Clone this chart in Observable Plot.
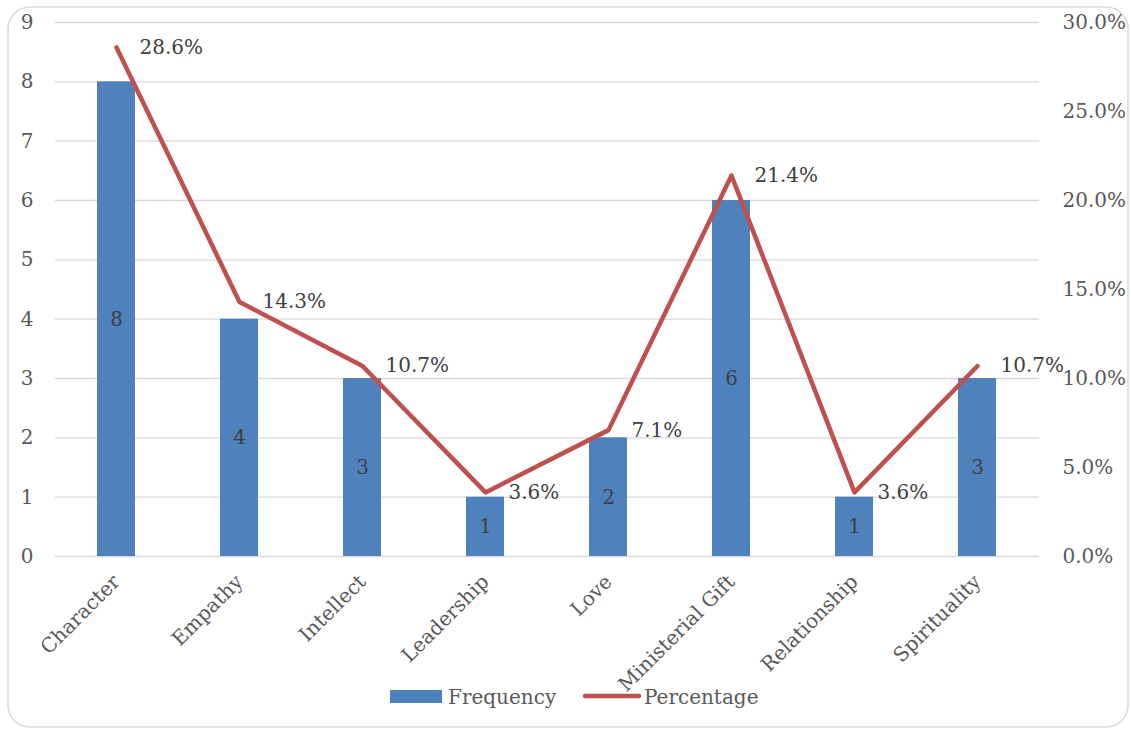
<!DOCTYPE html>
<html>
<head>
<meta charset="utf-8">
<script src="https://cdn.jsdelivr.net/npm/d3@7"></script>
<script src="https://cdn.jsdelivr.net/npm/@observablehq/plot@0.6"></script>
<style>
  body { margin: 0; background: #fff; }
  #chart { position: relative; width: 1131px; height: 732px; }
  #chart svg { font-family: "DejaVu Serif", "Liberation Serif", serif; }
</style>
</head>
<body>
<div id="chart"></div>
<script>
// Qualities named, with how often each was mentioned and its share of all mentions
const categories = ["Character", "Empathy", "Intellect", "Leadership", "Love", "Ministerial Gift", "Relationship", "Spirituality"];
const frequency = [8, 4, 3, 1, 2, 6, 1, 3];
const percentage = [28.6, 14.3, 10.7, 3.6, 7.1, 21.4, 3.6, 10.7];
const leftTicks = [0, 1, 2, 3, 4, 5, 6, 7, 8, 9];
const rightTicks = [0, 5, 10, 15, 20, 25, 30];

const data = categories.map((c, i) => ({ category: c, freq: frequency[i], pct: percentage[i] }));

const FMAX = 9;   // top of the frequency axis
const PMAX = 30;  // top of the percentage axis
const toFreq = p => p * FMAX / PMAX;

const blue = "#4F81BD";
const red = "#C0504D";
const ink = "#595959";
const FS = 20;

const chart = Plot.plot({
  width: 1131,
  height: 732,
  marginTop: 22,
  marginBottom: 176,
  marginLeft: 55,
  marginRight: 92,
  style: { fontSize: FS + "px", color: ink, background: "white", overflow: "visible" },
  x: { domain: categories, paddingInner: 0.69, paddingOuter: 0.345, label: null },
  y: { domain: [0, FMAX], label: null },
  marks: [
    Plot.gridY(leftTicks, { stroke: "#d9d9d9", strokeOpacity: 1, strokeWidth: 1.3 }),
    Plot.axisY(leftTicks, { anchor: "left", tickSize: 0, tickPadding: 22, fill: ink, fontSize: FS, tickFormat: d => String(d), label: null }),
    Plot.axisY(rightTicks.map(toFreq), {
      anchor: "right", tickSize: 0, tickPadding: 23, fill: ink, fontSize: FS, textAnchor: "start",
      tickFormat: d => (d * PMAX / FMAX).toFixed(1) + "%", label: null
    }),
    Plot.axisX({ tickSize: 0, tickRotate: -45, tickPadding: 22, fill: ink, fontSize: FS, label: null }),
    Plot.barY(data, { x: "category", y: "freq", fill: blue }),
    Plot.text(data, { x: "category", y: d => d.freq / 2, text: d => String(d.freq), fill: "#404040", fontSize: FS }),
    Plot.line(data, { x: "category", y: d => toFreq(d.pct), stroke: red, strokeWidth: 4.5, strokeLinecap: "round", strokeLinejoin: "round" }),
    Plot.text(data, { x: "category", y: d => toFreq(d.pct), text: d => d.pct.toFixed(1) + "%", textAnchor: "start", dx: 23, fill: "#404040", fontSize: FS })
  ]
});

const svg = d3.select(chart);

// Rounded frame around the whole chart
svg.insert("rect", ":first-child")
  .attr("x", 8).attr("y", 7).attr("width", 1120).attr("height", 720)
  .attr("rx", 22).attr("ry", 22)
  .attr("fill", "white").attr("stroke", "#d9d9d9").attr("stroke-width", 1.5);

// Legend
const legend = svg.append("g").attr("font-size", FS).attr("fill", ink).attr("text-anchor", "start");
legend.append("rect").attr("x", 390).attr("y", 690).attr("width", 52).attr("height", 13).attr("fill", blue);
legend.append("text").attr("x", 448).attr("y", 704).text("Frequency");
legend.append("line").attr("x1", 585).attr("x2", 639).attr("y1", 696).attr("y2", 696)
  .attr("stroke", red).attr("stroke-width", 4.5).attr("stroke-linecap", "round");
legend.append("text").attr("x", 644).attr("y", 704).text("Percentage");

document.getElementById("chart").appendChild(chart);
</script>
</body>
</html>
